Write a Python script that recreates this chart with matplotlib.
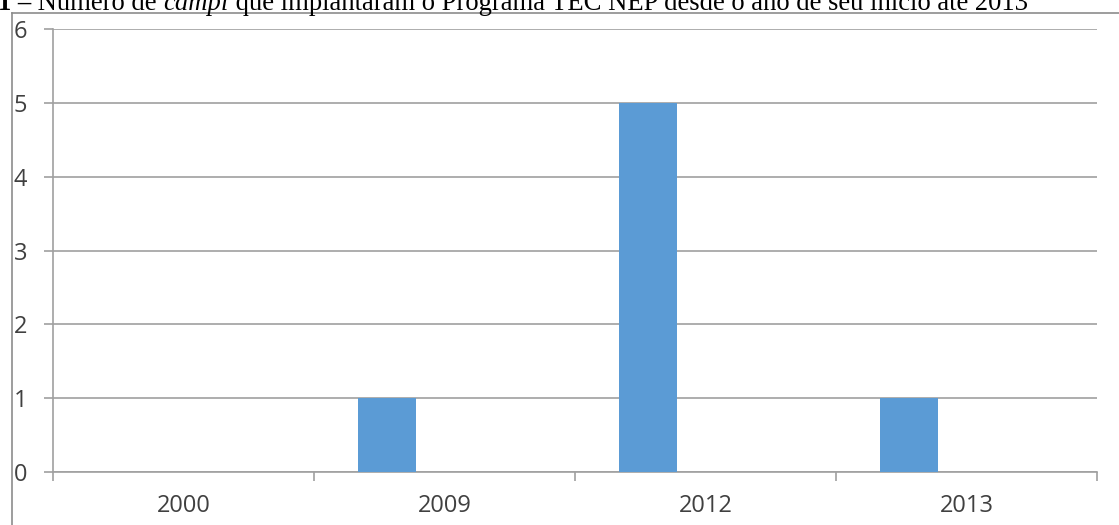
import numpy as np
import matplotlib.pyplot as plt
from matplotlib.lines import Line2D

# dados do grafico
anos = ['2000', '2009', '2012', '2013']
campi = [0, 1, 5, 1]
y_ticks = [0, 1, 2, 3, 4, 5, 6]

W, H = 1119, 525
fig = plt.figure(figsize=(W / 100, H / 100), dpi=100)
ax = fig.add_axes([53 / W, 1 - 472 / H, (1097 - 53) / W, (472 - 29) / H])

cor_grade = '#a0a0a0'
cor_texto = '#404040'

# Excel: 3 series por categoria, so a primeira tem valores (gap 150%)
largura = 1 / 4.5
x = np.arange(len(anos))
ax.bar(x - largura, campi, width=largura, color='#5b9bd5', zorder=3)

ax.set_xlim(-0.5, len(anos) - 0.5)
ax.set_ylim(0, 6)
ax.set_yticks(y_ticks)
ax.set_yticklabels([str(v) for v in y_ticks])
ax.yaxis.grid(True, color=cor_grade, linewidth=1.2, zorder=0)

# marcas nas divisoes entre categorias, rotulos no centro
ax.set_xticks(x)
ax.set_xticklabels(anos)
ax.set_xticks(np.arange(len(anos) + 1) - 0.5, minor=True)
ax.tick_params(axis='x', which='major', length=0, pad=16)
ax.tick_params(axis='x', which='minor', length=6.5, width=1.2, color=cor_grade)
ax.tick_params(axis='y', length=6.5, width=1.2, color=cor_grade, pad=12)

for lab in ax.get_xticklabels() + ax.get_yticklabels():
    lab.set_fontfamily('Open Sans')
    lab.set_fontsize(17)
    lab.set_color(cor_texto)
for lab in ax.get_yticklabels():
    lab.set_horizontalalignment('right')

for s in ['top', 'right']:
    ax.spines[s].set_visible(False)
ax.spines['left'].set_color(cor_grade)
ax.spines['left'].set_linewidth(1.2)
ax.spines['bottom'].set_color(cor_grade)
ax.spines['bottom'].set_linewidth(1.2)

# moldura externa (cortada na direita e embaixo)
fx0, fy0 = 11.5 / W, 1 - 12.5 / H
fig.add_artist(Line2D([fx0, fx0], [0, fy0], transform=fig.transFigure, color='#8c8c8c', lw=1.2))
fig.add_artist(Line2D([fx0, 1], [fy0, fy0], transform=fig.transFigure, color='#8c8c8c', lw=1.2))

# titulo (cortado no topo, como na imagem original), em partes
partes = [('1 –', 'bold', 'normal'),
          (' Número de ', 'normal', 'normal'),
          ('campi', 'normal', 'italic'),
          (' que implantaram o Programa TEC NEP desde o ano de seu início até 2013', 'normal', 'normal')]
fig.canvas.draw()
renderer = fig.canvas.get_renderer()
xpos = -2
for texto, peso, estilo in partes:
    t = fig.text(xpos / W, 1 - 10 / H, texto, fontfamily='Liberation Serif', fontsize=19.2,
                 fontweight=peso, fontstyle=estilo, va='baseline', ha='left', color='black')
    bb = t.get_window_extent(renderer)
    xpos = bb.x1

fig.savefig('out.png', dpi=100)
